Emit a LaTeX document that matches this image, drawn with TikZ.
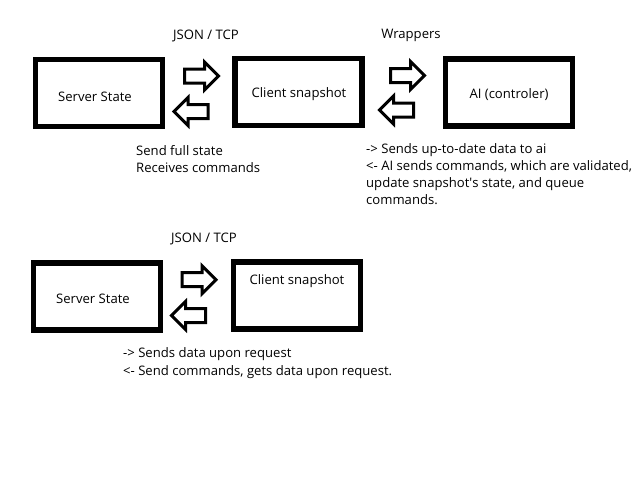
\documentclass[tikz,border=0pt]{standalone}
\usepackage{fontspec}
\setmainfont{Open Sans}
\usepackage{tikz}
\usetikzlibrary{positioning,shapes.arrows}

\tikzset{
  box/.style={draw,line width=5.5pt,minimum width=127pt,minimum height=67pt,inner sep=0pt},
  fatarrow/.style={draw,line width=3pt,single arrow,single arrow head extend=7pt,
    minimum height=34pt,inner xsep=0pt,inner ysep=5.5pt,text height=0pt,text depth=0pt},
  txt/.style={inner sep=0pt,font=\fontsize{13.1}{17}\selectfont},
}

\begin{document}
\begin{tikzpicture}[x=1pt,y=-1pt]
\useasboundingbox (0,0) rectangle (640,480);

% top row: server, client snapshot, ai
\node[box] (srvA) at (99,93) {};
\node[box] (cliA) at (298.5,92) {};
\node[box] (ai) at (509,92.5) {};
\node[txt,anchor=base] (srvAt) at (95,101) {Server State};
\node[txt,anchor=base] (cliAt) at (299,97) {Client snapshot};
\node[txt,anchor=base] (ait) at (509,98) {AI (controler)};

% bottom row: server, client snapshot
\node[box] (srvB) at (97,296.5) {};
\node[box] (cliB) at (297,295.5) {};
\node[txt,anchor=base] (srvBt) at (93,303) {Server State};
\node[txt,anchor=base] (cliBt) at (297,284) {Client snapshot};

% fat arrows, right one above, left one below
\foreach \n/\xa/\ya/\xb/\yb in {a/198/76/194.5/111.5, b/404/75.5/400/110, c/195.5/279.7/192/315.5} {
	\node[fatarrow] (r\n) at (\xa,\ya) {};
	\node[fatarrow,shape border rotate=180] (l\n) at (\xb,\yb) {};
}

% link names
\node[txt,anchor=base] (jsonA) at (206,39) {JSON / TCP};
\node[txt,anchor=base] (wrap) at (411,38) {Wrappers};
\node[txt,anchor=base] (jsonB) at (204,242) {JSON / TCP};

% notes under the arrows
\foreach \s [count=\i] in {Send full state,Receives commands}
	\node[txt,anchor=base west] (noteA\i) at (136,{155+(\i-1)*17}) {\s};
\foreach \s [count=\i] in {{-> Sends up-to-date data to ai},{<- AI sends commands, which are validated,},{update snapshot\textquotesingle s state, and queue},{commands.}}
	\node[txt,anchor=base west] (noteB\i) at (366,{153+(\i-1)*17}) {\s};
\foreach \s [count=\i] in {{-> Sends data upon request},{<- Send commands, gets data upon request.}}
	\node[txt,anchor=base west] (noteC\i) at (123,{357+(\i-1)*18}) {\s};
\end{tikzpicture}
\end{document}
